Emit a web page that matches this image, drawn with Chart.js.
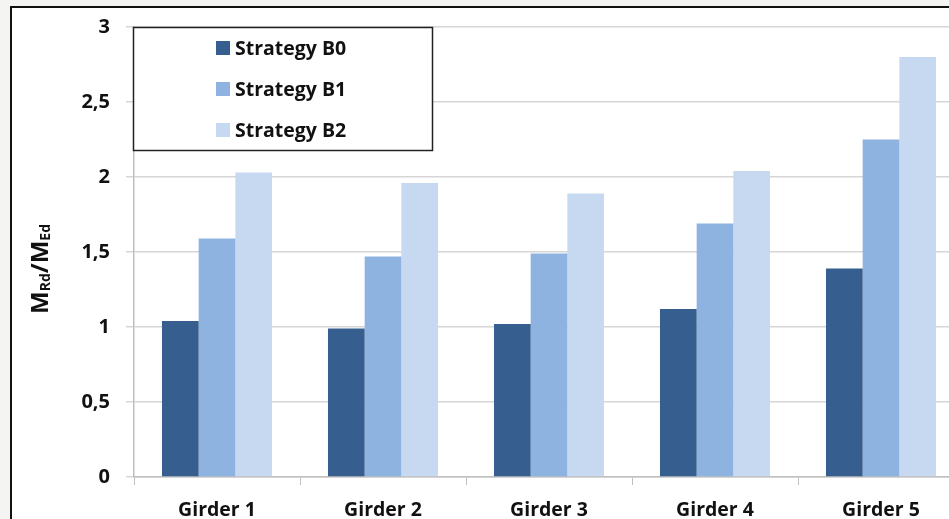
<!DOCTYPE html>
<html>
<head>
<meta charset="utf-8">
<script src="https://cdn.jsdelivr.net/npm/chart.js@4.4.0/dist/chart.umd.min.js"></script>
<style>
html, body { margin: 0; padding: 0; width: 949px; height: 519px; overflow: hidden; background: #f4f4f2; }
#frame { position: absolute; left: 10px; top: 6px; width: 960px; height: 520px; background: #fff;
         border-left: 2px solid #111; border-top: 2px solid #111; }
#chart { position: absolute; left: 0; top: 0; }
</style>
</head>
<body>
<div id="frame"><canvas id="chart" width="960" height="511"></canvas></div>
<script>
const girders = ["Girder 1", "Girder 2", "Girder 3", "Girder 4", "Girder 5"];
const strategyB0 = [1.04, 0.99, 1.02, 1.12, 1.39];
const strategyB1 = [1.59, 1.47, 1.49, 1.69, 2.25];
const strategyB2 = [2.03, 1.96, 1.89, 2.04, 2.80];
const yTicks = [0, 0.5, 1, 1.5, 2, 2.5, 3];

const FONT = "'Open Sans'";

function init() {
    createChart();
}

// legend box drawn inside the plot, like the original
const boxLegend = {
    id: "boxLegend",
    afterDraw(chart) {
        const ctx = chart.ctx;
        ctx.save();
        ctx.fillStyle = "#fff";
        ctx.fillRect(121.5, 19.5, 299, 123);
        ctx.strokeStyle = "#222";
        ctx.lineWidth = 1.5;
        ctx.strokeRect(121.5, 19.5, 299, 123);
        const rows = [40, 81, 122];
        chart.data.datasets.forEach((ds, i) => {
            ctx.fillStyle = ds.backgroundColor;
            ctx.fillRect(204, rows[i] - 7, 14, 14);
            ctx.fillStyle = "#111";
            ctx.font = "bold 19.5px " + FONT;
            ctx.textBaseline = "middle";
            ctx.fillText(ds.label, 223, rows[i] + 1);
        });
        ctx.restore();
    }
};

// y title with subscripts: M_Rd / M_Ed
const yTitle = {
    id: "yTitle",
    afterDraw(chart) {
        const ctx = chart.ctx;
        const parts = [
            ["M", 24, 0], ["Rd", 14, 5], ["/", 24, 0], ["M", 24, 0], ["Ed", 14, 5]
        ];
        ctx.save();
        ctx.translate(29, 261);
        ctx.rotate(-Math.PI / 2);
        ctx.fillStyle = "#111";
        ctx.textBaseline = "middle";
        let total = 0;
        parts.forEach(p => { ctx.font = "bold " + p[1] + "px " + FONT; total += ctx.measureText(p[0]).width; });
        let x = -total / 2;
        parts.forEach(p => {
            ctx.font = "bold " + p[1] + "px " + FONT;
            ctx.fillText(p[0], x, p[2]);
            x += ctx.measureText(p[0]).width;
        });
        ctx.restore();
    }
};

function noPad(s) {
    s.paddingTop = 0;
    s.paddingBottom = 0;
    s.paddingLeft = 0;
    s.paddingRight = 0;
}

function createChart() {
    let chart = document.getElementById("chart");
    const data = {
        labels: girders,
        datasets: [
            { label: "Strategy B0", data: strategyB0, backgroundColor: "#365E8E" },
            { label: "Strategy B1", data: strategyB1, backgroundColor: "#8EB3E0" },
            { label: "Strategy B2", data: strategyB2, backgroundColor: "#C6D9F0" }
        ]
    };

    const config = {
        type: "bar",
        data: data,
        options: {
            responsive: false,
            animation: false,
            devicePixelRatio: 1,
            categoryPercentage: 0.663,
            barPercentage: 1,
            layout: { padding: { left: 0, right: 8, top: 19, bottom: 0 } },
            plugins: {
                legend: { display: false },
                tooltip: { enabled: false }
            },
            scales: {
                x: {
                    grid: { drawOnChartArea: false, drawTicks: true, tickLength: 8, color: "#bfbfbf", offset: true },
                    border: { color: "#bfbfbf", width: 1.5 },
                    ticks: { color: "#111", font: { family: FONT, size: 19.5, weight: "bold" }, padding: 14 },
                    afterFit: s => { s.height = 42; noPad(s); }
                },
                y: {
                    min: 0,
                    max: 3,
                    afterBuildTicks: s => { s.ticks = yTicks.map(v => ({ value: v })); },
                    grid: { color: "#d6d6d6", lineWidth: 1.5, tickLength: 8 },
                    border: { color: "#bfbfbf", width: 1.5 },
                    ticks: {
                        color: "#111",
                        font: { family: FONT, size: 20, weight: "bold" },
                        padding: 16,
                        callback: v => String(v).replace(".", ",")
                    },
                    afterFit: s => { s.width = 122; noPad(s); }
                }
            }
        },
        plugins: [boxLegend, yTitle]
    };

    const myChart = new Chart(chart, config);
}

init();
</script>
</body>
</html>
